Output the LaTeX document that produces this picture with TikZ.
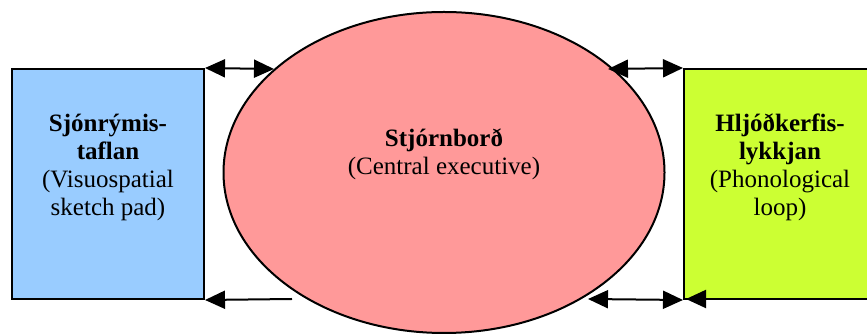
\documentclass[tikz,border=0pt]{standalone}
\usepackage{fontspec}
\setmainfont{Liberation Serif}
\usetikzlibrary{arrows.meta,shapes.geometric}
\definecolor{vsblue}{HTML}{99CCFF}
\definecolor{cered}{HTML}{FF9999}
\definecolor{plgreen}{HTML}{CCFF33}
\tikzset{
  boxshape/.style={draw=black, line width=1pt, minimum width=96pt, minimum height=115pt, inner sep=0pt},
  ceshape/.style={ellipse, draw=black, line width=1pt, fill=cered, minimum width=220.5pt, minimum height=160.5pt, inner sep=0pt},
  lbl/.style={align=center, font=\fontsize{12.5}{14}\selectfont, inner sep=0pt},
  conn/.style={line width=1pt},
  tri/.tip={Triangle[length=10pt 0 0,width=9pt 0 0]}
}
\begin{document}
\begin{tikzpicture}[x=0.5pt,y=-0.5pt]
\useasboundingbox (0,0) rectangle (867,335);
\node[boxshape, fill=vsblue] (L) at (108,184) {};
\node[boxshape, fill=plgreen] (R) at (780,184) {};
\node[ceshape] (E) at (444,172.5) {};
\node[lbl] (Lt) at (108,167) {\textbf{Sjónrýmis-}\\\textbf{taflan}\\(Visuospatial\\sketch pad)};
\node[lbl] (Rt) at (780,167) {\textbf{Hljóðkerfis-}\\\textbf{lykkjan}\\(Phonological\\loop)};
\node[lbl] (Et) at (444,154) {\textbf{Stjórnborð}\\(Central executive)};
\coordinate (e1) at (274,69);
\coordinate (e2) at (292,299);
\coordinate (e3) at (608,69);
\coordinate (e4) at (588,299);
\coordinate (r4) at (722,299);
\coordinate (r4b) at (686,299);
\draw[conn, tri-tri] (L.north east) -- (e1);
\draw[conn, tri-] (L.south east) -- (e2);
\draw[conn, tri-tri] (e3) -- (R.north west);
\draw[conn, tri-tri] (e4) -- (R.south west);
\draw[conn, -tri] (r4) -- (r4b);
\end{tikzpicture}
\end{document}
